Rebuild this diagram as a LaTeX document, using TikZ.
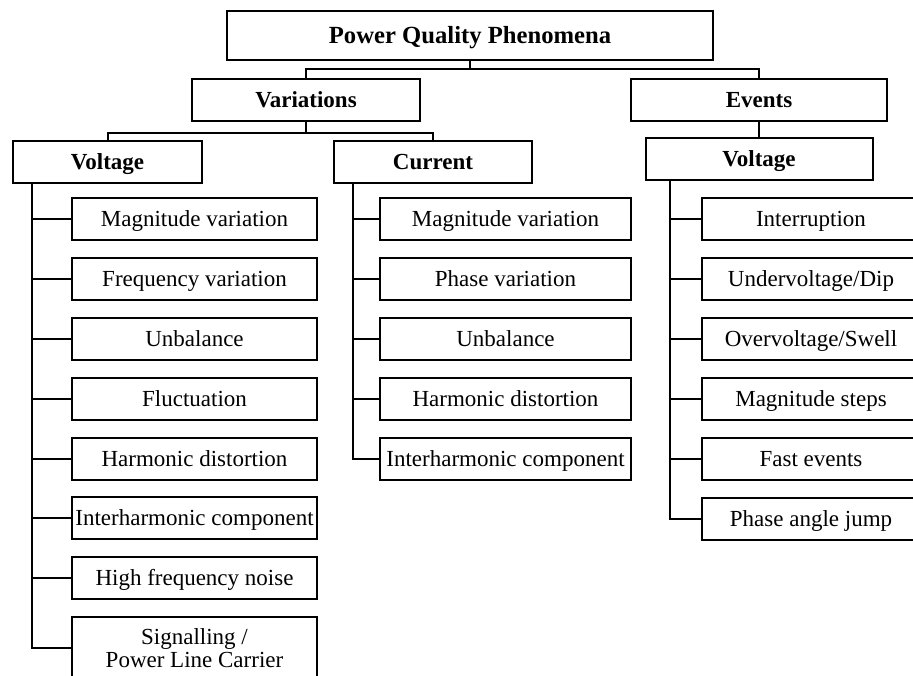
\documentclass[tikz,border=0pt]{standalone}
\usepackage{fontspec}
\setmainfont{Liberation Serif}
\begin{document}
\begin{tikzpicture}[x=0.75pt,y=-0.75pt,
  bw/.style={minimum width=#1*0.75pt},
  bh/.style={minimum height=#1*0.75pt},
  box/.style={draw=black, line width=1.5pt, fill=white, inner sep=0pt, bh=42,
    text height=11.8pt, text depth=0pt,
    align=center, font=\fontsize{17.25}{16.9}\selectfont},
  head/.style={box, font=\fontsize{17.25}{16.9}\selectfont\bfseries},
  link/.style={draw=black, line width=1.5pt}]
\useasboundingbox (0,0) rectangle (913,675);
\clip (0,0) rectangle (913,675);
\fill[white] (0,0) rectangle (913,675);

% headers
\node[head, bw=486, bh=49, text height=12.6pt, font=\fontsize{18.5}{18}\selectfont\bfseries] (top) at (470,35.5) {Power Quality Phenomena};
\node[head, bw=228] (var) at (306,99.5) {Variations};
\node[head, bw=256] (evt) at (759,99.5) {Events};
\node[head, bw=189] (vv) at (107.5,162) {Voltage};
\node[head, bw=198] (cur) at (433,162) {Current};
\node[head, bw=227] (ev) at (759,159) {Voltage};

% voltage variations
\node[box, bw=245] (a1) at (194.5,219) {Magnitude variation};
\node[box, bw=245] (a2) at (194.5,279) {Frequency variation};
\node[box, bw=245] (a3) at (194.5,339) {Unbalance};
\node[box, bw=245] (a4) at (194.5,399) {Fluctuation};
\node[box, bw=245] (a5) at (194.5,458.5) {Harmonic distortion};
\node[box, bw=245] (a6) at (194.5,518) {Interharmonic component};
\node[box, bw=245] (a7) at (194.5,578) {High frequency noise};
\node[box, bw=245, bh=62, text height={}, text depth={}] (a8) at (194.5,648) {Signalling /\\Power Line Carrier};

% current variations
\node[box, bw=251] (b1) at (505.5,219) {Magnitude variation};
\node[box, bw=251] (b2) at (505.5,279) {Phase variation};
\node[box, bw=251] (b3) at (505.5,339) {Unbalance};
\node[box, bw=251] (b4) at (505.5,399) {Harmonic distortion};
\node[box, bw=251] (b5) at (505.5,458.5) {Interharmonic component};

% voltage events
\node[box, bw=218] (c1) at (811,218.5) {Interruption};
\node[box, bw=218] (c2) at (811,278.5) {Undervoltage/Dip};
\node[box, bw=218] (c3) at (811,339) {Overvoltage/Swell};
\node[box, bw=218] (c4) at (811,398.5) {Magnitude steps};
\node[box, bw=218] (c5) at (811,459) {Fast events};
\node[box, bw=218] (c6) at (811,518.5) {Phase angle jump};

% tree connectors
\coordinate (j1) at (470,68.5);
\coordinate (j2) at (306,133);
\draw[link] (top.south) -- (j1);
\draw[link] (j1) -| (var.north);
\draw[link] (j1) -| (evt.north);
\draw[link] (var.south) -- (j2);
\draw[link] (j2) -| (vv.north);
\draw[link] (j2) -| (cur.north);
\draw[link] (evt.south) -- (ev.north);

\coordinate (va) at (32,0);
\coordinate (vb) at (353,0);
\coordinate (vc) at (670,0);
\foreach \n in {a1,a2,a3,a4,a5,a6,a7,a8}
  \draw[link] (vv.south -| va) |- (\n.west);
\foreach \n in {b1,b2,b3,b4,b5}
  \draw[link] (cur.south -| vb) |- (\n.west);
\foreach \n in {c1,c2,c3,c4,c5,c6}
  \draw[link] (ev.south -| vc) |- (\n.west);
\end{tikzpicture}
\end{document}
